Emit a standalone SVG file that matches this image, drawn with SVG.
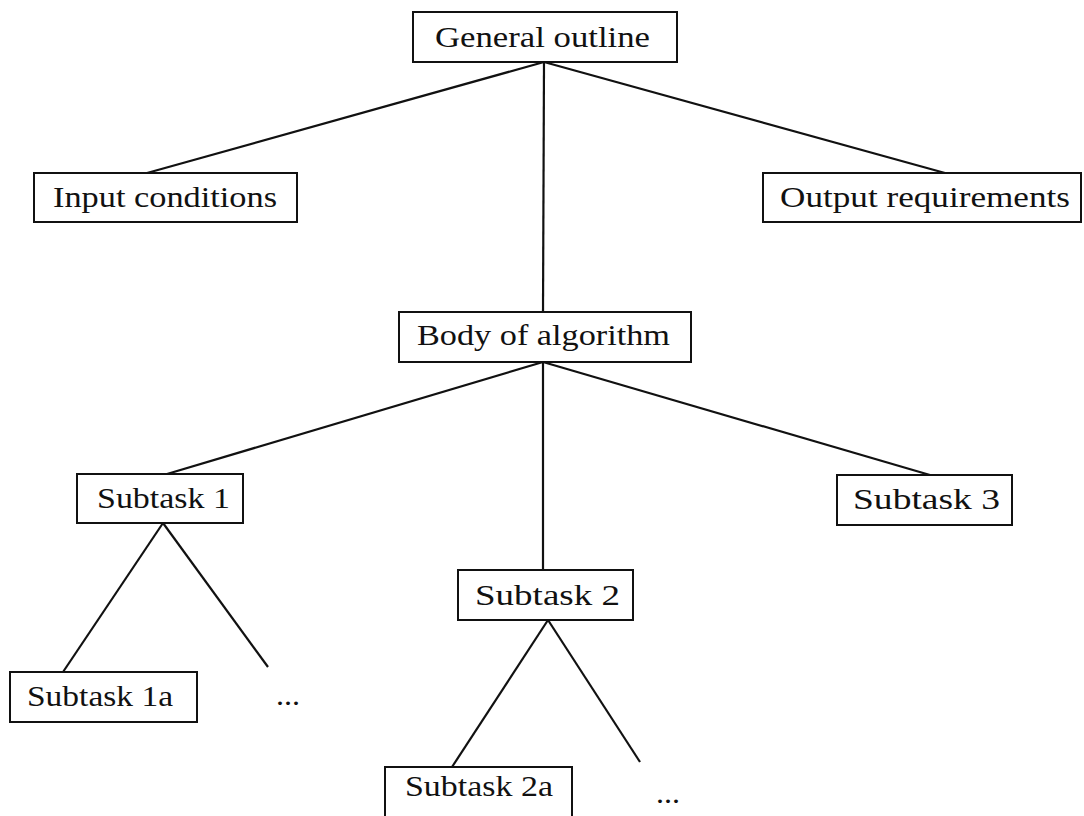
<svg xmlns="http://www.w3.org/2000/svg" width="1084" height="816" viewBox="0 0 1084 816">
<style>
.box{fill:#fff;stroke:#111;stroke-width:2}
.t{font-family:"Liberation Serif","Times New Roman",serif;font-size:29px;fill:#111}
.c line{stroke:#111;stroke-width:2.2}
</style>
<rect width="1084" height="816" fill="#fff"/>
<g class="c" id="connectors">
<line x1="544" y1="62" x2="147" y2="173"/>
<line x1="544" y1="62" x2="945" y2="173"/>
<line x1="544" y1="62" x2="543" y2="312"/>
<line x1="543" y1="362" x2="167" y2="474"/>
<line x1="543" y1="362" x2="543" y2="570"/>
<line x1="543" y1="362" x2="930" y2="475"/>
<line x1="163" y1="523" x2="63" y2="672"/>
<line x1="163" y1="523" x2="268" y2="667"/>
<line x1="548" y1="620" x2="452" y2="767"/>
<line x1="548" y1="620" x2="640" y2="762"/>
</g>
<g id="general-outline"><rect class="box" x="413" y="12" width="264" height="50"/><text class="t" x="435" y="47" textLength="215" lengthAdjust="spacingAndGlyphs">General outline</text></g>
<g id="input-conditions"><rect class="box" x="34" y="173" width="263" height="49"/><text class="t" x="53" y="207" textLength="224" lengthAdjust="spacingAndGlyphs">Input conditions</text></g>
<g id="output-requirements"><rect class="box" x="763" y="173" width="318" height="49"/><text class="t" x="780" y="207" textLength="290" lengthAdjust="spacingAndGlyphs">Output requirements</text></g>
<g id="body-of-algorithm"><rect class="box" x="399" y="312" width="292" height="50"/><text class="t" x="417" y="345" textLength="253" lengthAdjust="spacingAndGlyphs">Body of algorithm</text></g>
<g id="subtask-1"><rect class="box" x="77" y="474" width="166" height="49"/><text class="t" x="97" y="508" textLength="133" lengthAdjust="spacingAndGlyphs">Subtask 1</text></g>
<g id="subtask-3"><rect class="box" x="837" y="475" width="175" height="50"/><text class="t" x="853" y="509" textLength="147" lengthAdjust="spacingAndGlyphs">Subtask 3</text></g>
<g id="subtask-2"><rect class="box" x="458" y="570" width="175" height="50"/><text class="t" x="475" y="605" textLength="145" lengthAdjust="spacingAndGlyphs">Subtask 2</text></g>
<g id="subtask-1a"><rect class="box" x="10" y="672" width="187" height="50"/><text class="t" x="27" y="706" textLength="146" lengthAdjust="spacingAndGlyphs">Subtask 1a</text></g>
<g id="subtask-2a"><rect class="box" x="385" y="767" width="187" height="60"/><text class="t" x="405" y="796" textLength="148" lengthAdjust="spacingAndGlyphs">Subtask 2a</text></g>
<g id="ellipsis-1"><text class="t" x="276" y="705" textLength="24" lengthAdjust="spacingAndGlyphs">...</text></g>
<g id="ellipsis-2"><text class="t" x="656" y="803" textLength="24" lengthAdjust="spacingAndGlyphs">...</text></g>
</svg>
